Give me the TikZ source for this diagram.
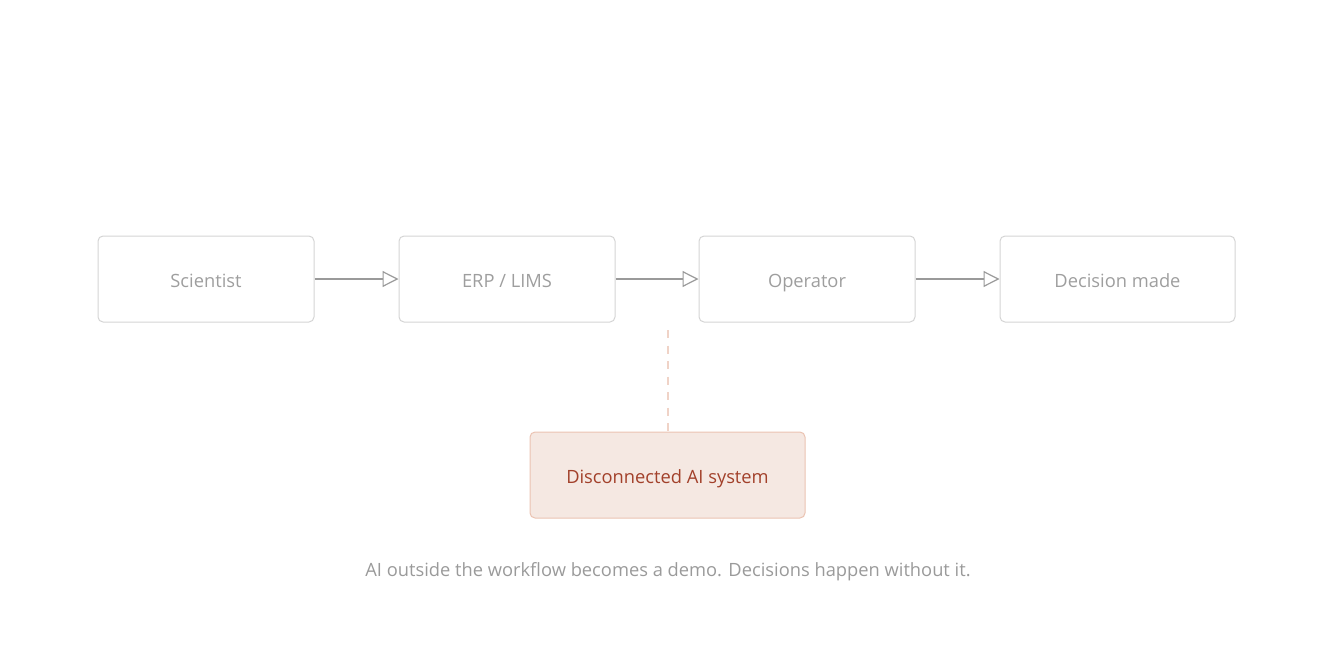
\documentclass[tikz,border=0pt]{standalone}
\usepackage{fontspec}
\setmainfont{Open Sans}
\usetikzlibrary{arrows.meta}
\definecolor{boxline}{HTML}{D4D4D4}
\definecolor{boxtext}{HTML}{9E9E9E}
\definecolor{arrowcol}{HTML}{9A9A9A}
\definecolor{aifill}{HTML}{F5E8E2}
\definecolor{ailine}{HTML}{EBC3B2}
\definecolor{aitext}{HTML}{A2402A}
\definecolor{dashcol}{HTML}{F0D3C7}
\definecolor{captext}{HTML}{9A9A9A}
\tikzset{
  txt/.style={font=\fontsize{18.3}{22}\selectfont, text height=20pt, text depth=4pt},
  stepbox/.style={draw=boxline, line width=1pt, rounded corners=5pt, minimum height=86pt, text=boxtext, txt, inner sep=0pt},
  flow/.style={draw=arrowcol, line width=1.2pt, -{Triangle[open, length=16pt, width=16pt, line width=1.2pt]}},
}
\begin{document}
\begin{tikzpicture}[x=1pt, y=-1pt]
\useasboundingbox (0,0) rectangle (1336,648);
\node[stepbox, minimum width=216pt] (sci) at (206,279) {Scientist};
\node[stepbox, minimum width=216pt] (erp) at (507,279) {ERP / LIMS};
\node[stepbox, minimum width=216pt] (op) at (807,279) {Operator};
\node[stepbox, minimum width=235pt] (dec) at (1117.5,279) {Decision made};
\node[draw=ailine, fill=aifill, line width=1pt, rounded corners=5pt, minimum width=275pt, minimum height=86pt, text=aitext, txt, inner sep=0pt] (ai) at (667.5,475) {Disconnected AI system};
\coordinate (dtop) at (668,330);
\draw[flow] (sci.east) -- (erp.west);
\draw[flow] (erp.east) -- (op.west);
\draw[flow] (op.east) -- (dec.west);
\draw[dashcol, line width=1.5pt, dash pattern=on 8pt off 7.5pt] (dtop) -- (ai.north -| dtop);
\node[text=captext, font=\fontsize{18.3}{22}\selectfont, inner sep=0pt, anchor=base] (cap) at (668,576) {AI outside the workflow becomes a demo. Decisions happen without it.};
\end{tikzpicture}
\end{document}
